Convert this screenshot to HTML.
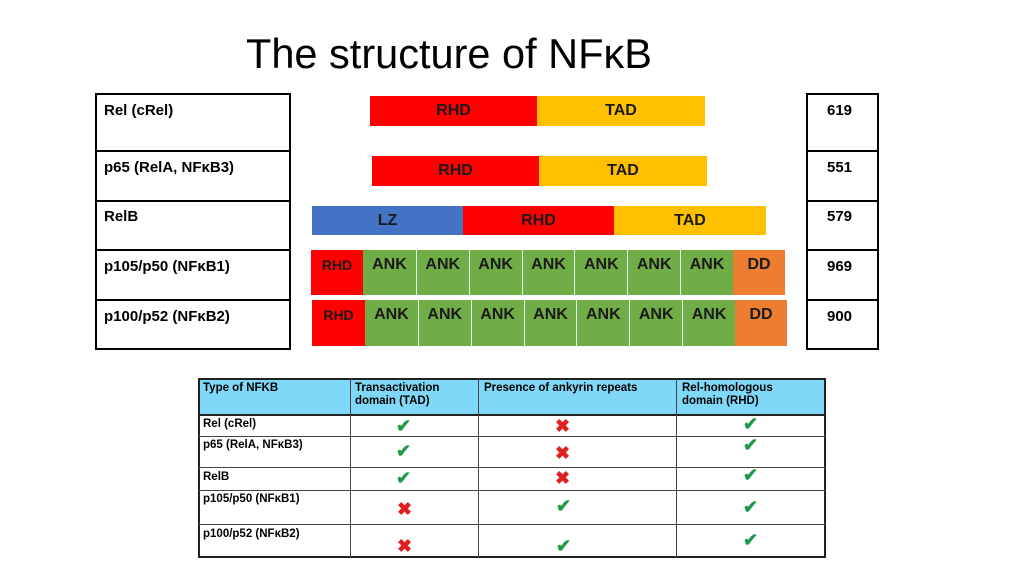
<!DOCTYPE html>
<html><head><style>
body{margin:0;width:1024px;height:576px;background:#fff;position:relative;font-family:"Liberation Sans",sans-serif;overflow:hidden}
.a{position:absolute;box-sizing:border-box}
.bar{position:absolute;display:flex;align-items:center;justify-content:center;font-weight:bold;font-size:16px;color:#1a1a1a;box-sizing:border-box}
.cell{position:absolute;font-weight:bold;font-size:15px;padding:6px 8px;box-sizing:border-box}
.tc{position:absolute;font-weight:bold;font-size:11.5px;line-height:13px;box-sizing:border-box}
.mk{position:absolute;font-size:18px;line-height:18px;font-weight:bold}
.ok{color:#1f9a4a}.no{color:#e02020}
</style></head><body>
<div class="a" style="left:246px;top:30px;font-size:41.5px;white-space:nowrap">The structure of NFκB</div>

<div class="a" style="left:95px;top:93px;width:196px;height:257px;border:2px solid #000"></div>
<div class="a" style="left:95px;top:150px;width:196px;border-top:2px solid #000"></div>
<div class="a" style="left:95px;top:200px;width:196px;border-top:2px solid #000"></div>
<div class="a" style="left:95px;top:249px;width:196px;border-top:2px solid #000"></div>
<div class="a" style="left:95px;top:299px;width:196px;border-top:2px solid #000"></div>
<div class="cell" style="left:96px;top:96px">Rel (cRel)</div>
<div class="cell" style="left:96px;top:153px">p65 (RelA, NFκB3)</div>
<div class="cell" style="left:96px;top:202px">RelB</div>
<div class="cell" style="left:96px;top:252px">p105/p50 (NFκB1)</div>
<div class="cell" style="left:96px;top:302px">p100/p52 (NFκB2)</div>

<div class="a" style="left:806px;top:93px;width:73px;height:257px;border:2px solid #000"></div>
<div class="a" style="left:806px;top:150px;width:73px;border-top:2px solid #000"></div>
<div class="a" style="left:806px;top:200px;width:73px;border-top:2px solid #000"></div>
<div class="a" style="left:806px;top:249px;width:73px;border-top:2px solid #000"></div>
<div class="a" style="left:806px;top:299px;width:73px;border-top:2px solid #000"></div>
<div class="cell" style="left:819px;top:96px">619</div>
<div class="cell" style="left:819px;top:153px">551</div>
<div class="cell" style="left:819px;top:202px">579</div>
<div class="cell" style="left:819px;top:252px">969</div>
<div class="cell" style="left:819px;top:302px">900</div>

<div class="bar" style="left:370px;top:96px;width:167px;height:30px;background:#f00">RHD</div>
<div class="bar" style="left:537px;top:96px;width:168px;height:30px;background:#ffc000">TAD</div>
<div class="bar" style="left:372px;top:156px;width:167px;height:30px;background:#f00">RHD</div>
<div class="bar" style="left:539px;top:156px;width:168px;height:30px;background:#ffc000">TAD</div>
<div class="bar" style="left:312px;top:206px;width:151px;height:29px;background:#4472c4">LZ</div>
<div class="bar" style="left:463px;top:206px;width:151px;height:29px;background:#f00">RHD</div>
<div class="bar" style="left:614px;top:206px;width:152px;height:29px;background:#ffc000">TAD</div>

<div class="bar" style="left:311px;top:250px;width:52px;height:45px;background:#f00;font-size:14px;padding-bottom:16px">RHD</div>
<div class="bar" style="left:363px;top:250px;width:370px;height:45px;background:#70ad47"></div>
<div class="bar" style="left:733px;top:250px;width:52px;height:45px;background:#ed7d31;padding-bottom:16px">DD</div>
<div class="bar" style="left:312px;top:300px;width:53px;height:46px;background:#f00;font-size:14px;padding-bottom:16px">RHD</div>
<div class="bar" style="left:365px;top:300px;width:370px;height:46px;background:#70ad47"></div>
<div class="bar" style="left:735px;top:300px;width:52px;height:46px;background:#ed7d31;padding-bottom:16px">DD</div>
<div id="ank"></div>
<script>
var h='';for(var i=0;i<7;i++){var w=370/7;
h+='<div class="bar" style="left:'+(363+i*w)+'px;top:250px;width:'+w+'px;height:45px;border-left:'+(i?'1.5px solid #dfe':'0')+';padding-bottom:16px">ANK</div>';
h+='<div class="bar" style="left:'+(365+i*w)+'px;top:300px;width:'+w+'px;height:46px;border-left:'+(i?'1.5px solid #dfe':'0')+';padding-bottom:16px">ANK</div>';}
document.getElementById('ank').innerHTML=h;
</script>

<div class="a" style="left:198px;top:378px;width:628px;height:37px;background:#7fd8f8"></div>
<div class="a" style="left:198px;top:378px;width:628px;height:180px;border:2px solid #222"></div>
<div class="a" style="left:198px;top:414px;width:628px;border-top:2px solid #222"></div>
<div class="a" style="left:198px;top:436px;width:628px;border-top:1px solid #444"></div>
<div class="a" style="left:198px;top:467px;width:628px;border-top:1px solid #444"></div>
<div class="a" style="left:198px;top:490px;width:628px;border-top:1px solid #444"></div>
<div class="a" style="left:198px;top:524px;width:628px;border-top:1px solid #444"></div>
<div class="a" style="left:350px;top:378px;height:180px;border-left:1px solid #444"></div>
<div class="a" style="left:478px;top:378px;height:180px;border-left:1px solid #444"></div>
<div class="a" style="left:676px;top:378px;height:180px;border-left:1px solid #444"></div>

<div class="tc" style="left:203px;top:382px">Type of NFKB</div>
<div class="tc" style="left:355px;top:382px">Transactivation<br>domain (TAD)</div>
<div class="tc" style="left:484px;top:382px">Presence of ankyrin repeats</div>
<div class="tc" style="left:682px;top:382px">Rel-homologous<br>domain (RHD)</div>
<div class="tc" style="left:203px;top:418px">Rel (cRel)</div>
<div class="tc" style="left:203px;top:439px">p65 (RelA, NFκB3)</div>
<div class="tc" style="left:203px;top:471px">RelB</div>
<div class="tc" style="left:203px;top:493px">p105/p50 (NFκB1)</div>
<div class="tc" style="left:203px;top:528px">p100/p52 (NFκB2)</div>

<div class="mk ok" style="left:396px;top:417px">✔</div><div class="mk no" style="left:555px;top:417px">✖</div><div class="mk ok" style="left:743px;top:415px">✔</div>
<div class="mk ok" style="left:396px;top:442px">✔</div><div class="mk no" style="left:555px;top:444px">✖</div><div class="mk ok" style="left:743px;top:436px">✔</div>
<div class="mk ok" style="left:396px;top:469px">✔</div><div class="mk no" style="left:555px;top:469px">✖</div><div class="mk ok" style="left:743px;top:466px">✔</div>
<div class="mk no" style="left:397px;top:500px">✖</div><div class="mk ok" style="left:556px;top:497px">✔</div><div class="mk ok" style="left:743px;top:498px">✔</div>
<div class="mk no" style="left:397px;top:537px">✖</div><div class="mk ok" style="left:556px;top:537px">✔</div><div class="mk ok" style="left:743px;top:531px">✔</div>
</body></html>
